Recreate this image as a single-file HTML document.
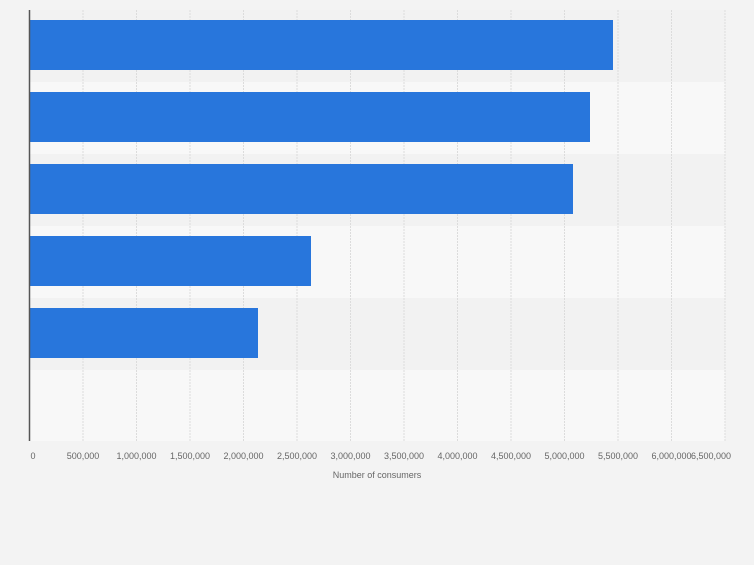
<!DOCTYPE html>
<html><head><style>
body{margin:0;background:#f3f3f3;width:754px;height:560px;overflow:hidden;font-family:"Liberation Sans",sans-serif}
</style></head><body>
<svg width="754" height="560" xmlns="http://www.w3.org/2000/svg">
<rect width="754" height="560" fill="#f3f3f3"/>
<rect x="30" y="10" width="695" height="72" fill="#f2f2f2"/>
<rect x="30" y="82" width="695" height="72" fill="#f8f8f8"/>
<rect x="30" y="154" width="695" height="72" fill="#f2f2f2"/>
<rect x="30" y="226" width="695" height="72" fill="#f8f8f8"/>
<rect x="30" y="298" width="695" height="72" fill="#f2f2f2"/>
<rect x="30" y="370" width="695" height="71" fill="#f8f8f8"/>
<g stroke="#dcdcdc" stroke-width="1" stroke-dasharray="2,1">
<line x1="83" y1="10" x2="83" y2="441"/><line x1="136.5" y1="10" x2="136.5" y2="441"/>
<line x1="190" y1="10" x2="190" y2="441"/><line x1="243.5" y1="10" x2="243.5" y2="441"/>
<line x1="297" y1="10" x2="297" y2="441"/><line x1="350.5" y1="10" x2="350.5" y2="441"/>
<line x1="404" y1="10" x2="404" y2="441"/><line x1="457.5" y1="10" x2="457.5" y2="441"/>
<line x1="511" y1="10" x2="511" y2="441"/><line x1="564.5" y1="10" x2="564.5" y2="441"/>
<line x1="618" y1="10" x2="618" y2="441"/><line x1="671.5" y1="10" x2="671.5" y2="441"/>
<line x1="725" y1="10" x2="725" y2="441"/>
</g>
<g fill="#2876dc">
<rect x="30" y="20" width="583" height="50"/>
<rect x="30" y="92" width="560" height="50"/>
<rect x="30" y="164" width="543" height="50"/>
<rect x="30" y="236" width="281" height="50"/>
<rect x="30" y="308" width="228" height="50"/>
</g>
<line x1="29.5" y1="10" x2="29.5" y2="441" stroke="#555" stroke-width="1.5"/>
<g font-size="9" fill="#666" text-anchor="middle">
<text x="33" y="459">0</text>
<text x="83" y="459">500,000</text><text x="136.5" y="459">1,000,000</text>
<text x="190" y="459">1,500,000</text><text x="243.5" y="459">2,000,000</text>
<text x="297" y="459">2,500,000</text><text x="350.5" y="459">3,000,000</text>
<text x="404" y="459">3,500,000</text><text x="457.5" y="459">4,000,000</text>
<text x="511" y="459">4,500,000</text><text x="564.5" y="459">5,000,000</text>
<text x="618" y="459">5,500,000</text><text x="671.5" y="459">6,000,000</text>
<text x="711" y="459">6,500,000</text>
<text x="377" y="478">Number of consumers</text>
</g>
</svg>
</body></html>
